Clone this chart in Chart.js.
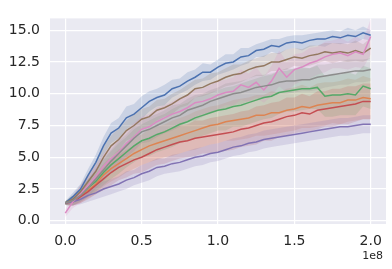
<!DOCTYPE html>
<html><head><meta charset="utf-8">
<script src="https://cdn.jsdelivr.net/npm/chart.js@4/dist/chart.umd.min.js"></script>
<style>html,body{margin:0;padding:0;background:#fff;}</style>
</head><body>
<canvas id="c" width="392" height="269"></canvas>
<script>
const steps = [0,5e6,1e7,1.5e7,2e7,2.5e7,3e7,3.5e7,4e7,4.5e7,5e7,5.5e7,6e7,6.5e7,7e7,7.5e7,8e7,8.5e7,9e7,9.5e7,1e8,1.05e8,1.1e8,1.15e8,1.2e8,1.25e8,1.3e8,1.35e8,1.4e8,1.45e8,1.5e8,1.55e8,1.6e8,1.65e8,1.7e8,1.75e8,1.8e8,1.85e8,1.9e8,1.95e8,2e8];
const xTicks = [0,5e7,1e8,1.5e8,2e8];
const yTicks = [0,2.5,5,7.5,10,12.5,15];

const blue   = [1.4,1.9,2.5,3.6,4.6,5.9,6.9,7.3,8.1,8.4,8.9,9.4,9.7,9.9,10.4,10.6,11.0,11.3,11.7,11.7,12.1,12.4,12.5,12.9,13.0,13.4,13.5,13.8,13.7,14.0,14.1,14.0,14.2,14.3,14.3,14.5,14.4,14.6,14.5,14.8,14.6];
const orange = [1.4,1.5,1.9,2.4,2.9,3.6,4.1,4.5,4.9,5.3,5.6,5.9,6.1,6.3,6.5,6.7,6.9,7.1,7.3,7.5,7.6,7.8,7.9,8.0,8.1,8.3,8.3,8.5,8.5,8.7,8.8,9.0,8.9,9.1,9.2,9.3,9.3,9.5,9.5,9.7,9.6];
const green  = [1.4,1.6,2.0,2.6,3.1,3.8,4.4,4.9,5.4,5.9,6.3,6.5,6.8,7.0,7.3,7.6,7.8,8.1,8.3,8.5,8.7,8.8,9.0,9.1,9.3,9.5,9.7,9.8,10.1,10.2,10.3,10.4,10.4,10.5,9.8,9.9,9.9,10.0,9.9,10.6,10.4];
const red    = [1.4,1.5,1.9,2.3,2.8,3.3,3.8,4.2,4.5,4.8,5.0,5.3,5.6,5.8,6.0,6.2,6.3,6.5,6.6,6.7,6.8,6.9,7.0,7.2,7.3,7.5,7.7,7.8,8.0,8.2,8.3,8.5,8.4,8.7,8.8,8.9,9.0,9.1,9.2,9.4,9.4];
const purple = [1.4,1.5,1.7,2.0,2.2,2.5,2.7,2.9,3.2,3.4,3.7,3.9,4.2,4.3,4.5,4.6,4.8,5.0,5.1,5.3,5.4,5.6,5.8,5.9,6.1,6.2,6.4,6.5,6.6,6.7,6.8,6.9,7.0,7.1,7.2,7.3,7.4,7.4,7.5,7.6,7.6];
const brown  = [1.4,1.7,2.3,3.1,3.9,5.0,5.9,6.4,7.1,7.5,8.0,8.2,8.7,8.9,9.2,9.6,9.9,10.4,10.5,10.8,11.0,11.3,11.5,11.6,11.9,12.1,12.2,12.5,12.5,12.7,12.9,12.8,13.0,13.1,13.3,13.2,13.3,13.2,13.4,13.2,13.6];
const pink   = [0.6,1.5,2.1,2.8,3.5,4.3,4.9,5.4,6.1,6.6,7.2,7.4,7.8,8.1,8.4,8.6,8.9,9.3,9.4,9.6,9.9,10.1,10.2,10.7,10.5,10.9,10.3,11.0,12.0,11.3,11.9,12.1,12.4,12.6,12.9,13.1,13.2,13.0,13.3,13.1,14.5];
const gray   = [1.4,1.6,2.0,2.6,3.3,4.0,4.7,5.3,5.9,6.5,7.0,7.2,7.5,7.8,8.1,8.3,8.7,8.9,9.1,9.4,9.6,9.8,10.0,10.1,10.3,10.5,10.6,10.7,10.9,11.0,11.0,11.1,11.1,11.3,11.4,11.5,11.6,11.7,11.8,11.8,11.9];

const blueBand   = [0.15,0.3,0.4,0.5,0.6,0.7,0.8,0.8,0.9,0.8,0.9,0.8,0.7,0.8,0.7,0.6,0.7,0.6,0.7,0.6,0.6,0.7,0.6,0.7,0.6,0.5,0.6,0.5,0.6,0.5,0.5,0.6,0.5,0.5,0.6,0.5,0.5,0.6,0.5,0.5,0.4];
const orangeBand = [0.15,0.3,0.5,0.6,0.8,0.9,1.0,1.1,1.1,1.2,1.2,1.3,1.3,1.3,1.4,1.4,1.4,1.5,1.5,1.5,1.5,1.5,1.6,1.6,1.6,1.6,1.6,1.7,1.6,1.7,1.7,1.7,1.6,1.7,1.7,1.6,1.7,1.7,1.6,1.7,1.6];
const greenBand  = [0.15,0.4,0.5,0.7,0.8,1.0,1.1,1.2,1.2,1.3,1.3,1.4,1.4,1.4,1.5,1.5,1.5,1.6,1.6,1.6,1.6,1.7,1.6,1.7,1.7,1.7,1.7,1.7,1.7,1.6,1.7,1.7,1.6,1.7,1.6,1.7,1.6,1.7,1.6,1.6,1.6];
const redBand    = [0.15,0.3,0.5,0.6,0.7,0.9,1.0,1.0,1.1,1.1,1.2,1.2,1.2,1.3,1.3,1.3,1.3,1.4,1.3,1.4,1.4,1.4,1.4,1.4,1.4,1.5,1.4,1.5,1.4,1.5,1.4,1.5,1.4,1.5,1.4,1.5,1.4,1.5,1.4,1.4,1.4];
const purpleBand = [0.15,0.3,0.4,0.5,0.5,0.6,0.6,0.6,0.7,0.6,0.7,0.7,0.7,0.6,0.7,0.7,0.7,0.7,0.7,0.7,0.7,0.7,0.7,0.7,0.7,0.7,0.7,0.7,0.7,0.7,0.7,0.7,0.7,0.7,0.7,0.7,0.7,0.7,0.7,0.7,0.7];
const brownBand  = [0.15,0.3,0.5,0.6,0.7,0.8,0.8,0.9,0.8,0.9,0.8,0.8,0.8,0.7,0.8,0.7,0.8,0.7,0.7,0.8,0.7,0.7,0.8,0.7,0.7,0.7,0.8,0.7,0.7,0.8,0.7,0.7,0.8,0.7,0.7,0.8,0.7,0.7,0.8,0.7,0.8];
const pinkBand   = [0.3,0.5,0.7,0.8,0.9,1.0,1.0,1.1,1.0,1.1,1.0,1.0,1.1,1.0,1.0,1.1,1.0,1.1,1.0,1.1,1.1,1.0,1.1,1.2,1.1,1.2,1.0,1.2,1.4,1.2,1.2,1.1,1.2,1.1,1.2,1.1,1.2,1.1,1.2,1.1,1.4];
const grayBand   = [0.15,0.4,0.5,0.7,0.8,0.9,0.9,1.0,0.9,1.0,0.9,1.0,0.9,0.9,1.0,0.9,0.9,1.0,0.9,0.9,0.9,1.0,0.9,0.9,0.9,1.0,0.9,0.9,0.9,1.0,0.9,0.9,0.9,1.0,0.9,0.9,0.9,1.0,0.9,0.9,0.9];

const series = [
  {v: blue,   b: blueBand,   c: [76,114,176]},
  {v: orange, b: orangeBand, c: [221,132,82]},
  {v: green,  b: greenBand,  c: [85,168,104]},
  {v: red,    b: redBand,    c: [196,78,82]},
  {v: purple, b: purpleBand, c: [129,114,179]},
  {v: brown,  b: brownBand,  c: [147,120,96]},
  {v: pink,   b: pinkBand,   c: [218,139,195]},
  {v: gray,   b: grayBand,   c: [140,140,140]}
];

const datasets = [];
series.forEach((s, k) => {
  const rgb = s.c.join(',');
  datasets.push({order: 100 - 2 * k, data: steps.map((x,i)=>({x, y: s.v[i] + s.b[i]})), borderWidth: 0, pointRadius: 0, fill: false, borderColor: 'rgba(0,0,0,0)'});
  datasets.push({order: 99 - 2 * k, data: steps.map((x,i)=>({x, y: s.v[i] - s.b[i]})), borderWidth: 0, pointRadius: 0, fill: '-1', borderColor: 'rgba(0,0,0,0)', backgroundColor: 'rgba(' + rgb + ',0.2)'});
});
series.forEach((s, k) => {
  datasets.push({order: 10 - k, data: steps.map((x,i)=>({x, y: s.v[i]})), borderColor: 'rgb(' + s.c.join(',') + ')', borderWidth: 1.5, pointRadius: 0, fill: false, tension: 0});
});

const bgPlugin = {
  id: 'bg',
  beforeDraw(chart) {
    const {ctx, chartArea: a} = chart;
    ctx.save();
    ctx.fillStyle = '#fff';
    ctx.fillRect(0, 0, chart.width, chart.height);
    ctx.fillStyle = '#EAEAF2';
    ctx.fillRect(a.left, a.top, a.right - a.left, a.bottom - a.top);
    ctx.restore();
  },
  afterDraw(chart) {
    const ctx = chart.ctx;
    ctx.save();
    ctx.fillStyle = '#262626';
    ctx.font = '11px "DejaVu Sans"';
    ctx.textAlign = 'right';
    ctx.textBaseline = 'middle';
    ctx.fillText('1e8', 383, 256);
    ctx.restore();
  }
};

const font = {family: 'DejaVu Sans', size: 14};
new Chart(document.getElementById('c'), {
  type: 'line',
  data: {datasets},
  options: {
    responsive: false,
    animation: false,
    layout: {padding: {top: 8, right: 6, left: 0, bottom: 0}},
    plugins: {legend: {display: false}, tooltip: {enabled: false}},
    scales: {
      x: {
        type: 'linear', min: -1e7, max: 2.1e8,
        afterBuildTicks: sc => { sc.ticks = xTicks.map(v => ({value: v})); },
        afterFit: sc => { sc.height = 45; },
        ticks: {font, color: '#262626', padding: 9, callback: v => (v / 1e8).toFixed(1), maxRotation: 0},
        grid: {color: '#ffffff', lineWidth: 1.2, drawTicks: false},
        border: {display: false}
      },
      y: {
        type: 'linear', min: -0.25, max: 15.93,
        afterBuildTicks: sc => { sc.ticks = yTicks.map(v => ({value: v})); },
        afterFit: sc => { sc.width = 50; },
        ticks: {font, color: '#262626', padding: 10, callback: v => v.toFixed(1)},
        grid: {color: '#ffffff', lineWidth: 1.2, drawTicks: false},
        border: {display: false}
      }
    }
  },
  plugins: [bgPlugin]
});
</script>
</body></html>
